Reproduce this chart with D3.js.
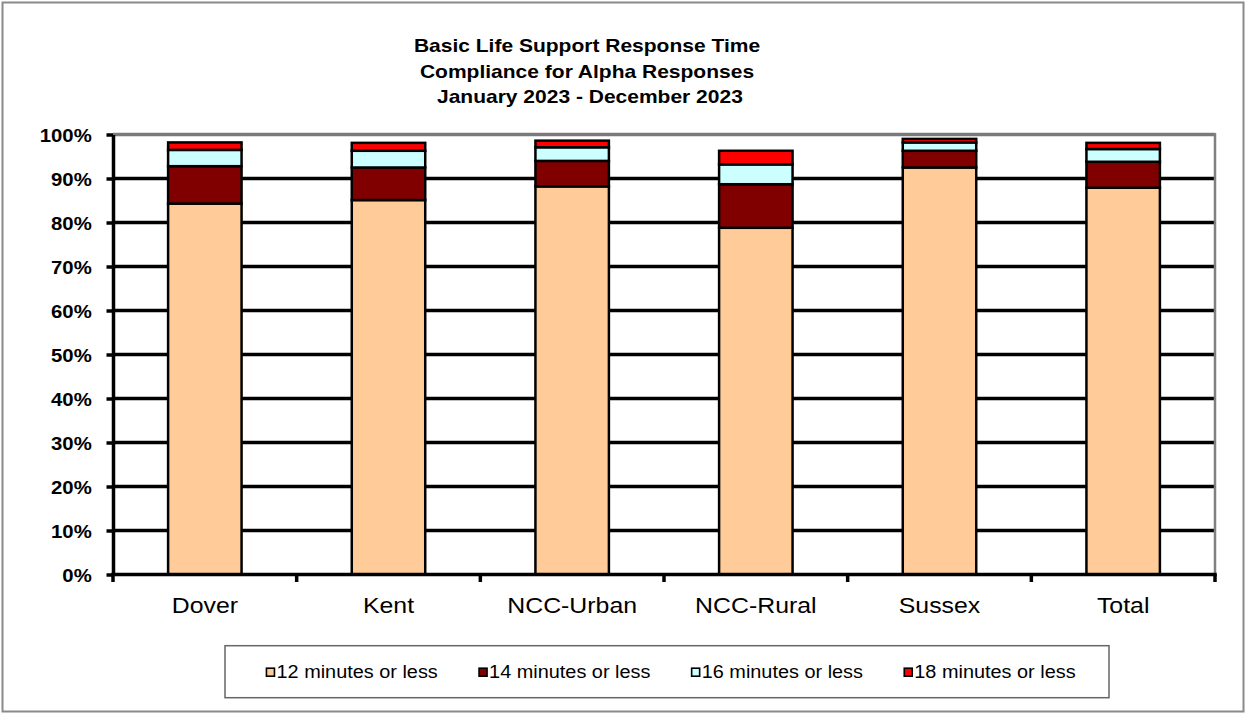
<!DOCTYPE html>
<html>
<head>
<meta charset="utf-8">
<script src="https://cdn.jsdelivr.net/npm/d3@7"></script>
<style>
  html, body { margin: 0; padding: 0; background: #fff; }
  svg { display: block; }
  text { font-family: "Liberation Sans", Arial, sans-serif; fill: #000; }
</style>
</head>
<body>
<svg id="chart" width="1246" height="713"></svg>
<script>
// ---- data ----
const categories = ["Dover", "Kent", "NCC-Urban", "NCC-Rural", "Sussex", "Total"];
const seriesNames = ["12 minutes or less", "14 minutes or less", "16 minutes or less", "18 minutes or less"];
const le12 = [84.3, 85.1, 88.2, 78.8, 92.5, 87.9];
const le14 = [8.5, 7.4, 5.8, 9.9, 3.8, 5.9];
const le16 = [3.7, 3.8, 3.1, 4.5, 1.9, 2.9];
const le18 = [1.7, 1.8, 1.5, 3.1, 0.8, 1.4];
const yTicks = [0, 0.1, 0.2, 0.3, 0.4, 0.5, 0.6, 0.7, 0.8, 0.9, 1.0];
const titleLines = ["Basic Life Support Response Time", "Compliance for Alpha Responses", " January 2023 - December 2023"];
const colors = ["#FFCC99", "#800000", "#CCFFFF", "#FF0000"];

(function () {
const SX = 1.13; // horizontal stretch of text as in reference

const svg = d3.select("#chart");
const W = 1246, H = 713;
const pLeft = 113, pRight = 1215, pTop = 134.5, pBottom = 574.5;

// outer border
svg.append("rect").attr("x", 2.5).attr("y", 2.5).attr("width", W - 5).attr("height", H - 4)
  .attr("fill", "#fff").attr("stroke", "#8a8a8a").attr("stroke-width", 2);

// title
const titleY = [51.7, 77.7, 103.3];
svg.append("g").selectAll("text").data(titleLines).join("text")
  .attr("transform", (d, i) => `translate(587,${titleY[i]}) scale(${SX},1)`)
  .attr("text-anchor", "middle")
  .attr("font-size", "18.6px").attr("font-weight", "bold")
  .attr("xml:space", "preserve")
  .text(d => d);

// scales
const x = d3.scaleBand().domain(categories).range([pLeft, pRight]).paddingInner(0.6).paddingOuter(0.3);
const y = d3.scaleLinear().domain([0, 1]).range([pBottom, pTop]);

// data table
const table = categories.map((c, i) => ({
  cat: c,
  s0: le12[i] / 100, s1: le14[i] / 100, s2: le16[i] / 100, s3: le18[i] / 100
}));
const stacked = d3.stack().keys(["s0", "s1", "s2", "s3"])(table);

// gridlines
svg.append("g").selectAll("line").data(yTicks.filter(t => t > 0))
  .join("line")
  .attr("x1", pLeft).attr("x2", pRight)
  .attr("y1", d => y(d)).attr("y2", d => y(d))
  .attr("stroke", d => d >= 1 ? "#7a7a7a" : "#000")
  .attr("stroke-width", 3.5);

// right plot border
svg.append("line").attr("x1", pRight).attr("x2", pRight).attr("y1", pTop - 1.5).attr("y2", pBottom)
  .attr("stroke", "#808080").attr("stroke-width", 2.5);

// bars
svg.append("g").selectAll("g").data(stacked).join("g")
  .attr("fill", (d, i) => colors[i])
  .selectAll("rect").data(d => d).join("rect")
  .attr("x", d => x(d.data.cat))
  .attr("width", x.bandwidth())
  .attr("y", d => y(d[1]))
  .attr("height", d => y(d[0]) - y(d[1]))
  .attr("stroke", "#000").attr("stroke-width", 2.5);

// y axis
const yAxis = svg.append("g").attr("transform", `translate(${pLeft},0)`)
  .call(d3.axisLeft(y).tickValues(yTicks).tickSize(6.5).tickSizeOuter(0).tickFormat(d3.format(".0%")));
yAxis.select(".domain").attr("stroke", "#000").attr("stroke-width", 3.5);
yAxis.selectAll(".tick line").attr("stroke", "#000").attr("stroke-width", 3.5);
yAxis.selectAll(".tick text")
  .attr("x", 0).attr("dy", "0.4em")
  .attr("transform", `translate(-21.3,0) scale(${SX},1)`)
  .attr("font-size", "18px").attr("font-weight", "bold")
  .attr("font-family", "'Liberation Sans', Arial, sans-serif").attr("fill", "#000");

// x axis (labels at band centres, ticks at band boundaries)
const xAxis = svg.append("g").attr("transform", `translate(0,${pBottom})`)
  .call(d3.axisBottom(x).tickSize(0).tickSizeOuter(0));
xAxis.select(".domain").remove();
xAxis.selectAll(".tick text")
  .attr("y", 0).attr("dy", 0)
  .attr("transform", `translate(0,${613.3 - pBottom}) scale(${SX},1)`)
  .attr("font-size", "22px")
  .attr("font-family", "'Liberation Sans', Arial, sans-serif").attr("fill", "#000");

const step = x.step();
const boundaries = categories.map(c => x(c) - step * x.paddingOuter()).concat([pRight]);
svg.append("line").attr("x1", pLeft - 1.75).attr("x2", pRight + 1.75).attr("y1", pBottom).attr("y2", pBottom)
  .attr("stroke", "#000").attr("stroke-width", 3.5);
svg.append("g").selectAll("line").data(boundaries).join("line")
  .attr("x1", d => d).attr("x2", d => d)
  .attr("y1", pBottom).attr("y2", pBottom + 7.5)
  .attr("stroke", "#000").attr("stroke-width", 3.5);

// legend
svg.append("rect").attr("x", 225).attr("y", 645.7).attr("width", 884).attr("height", 52)
  .attr("fill", "#fff").attr("stroke", "#666").attr("stroke-width", 1.5);
const legend = svg.append("g").selectAll("g").data(seriesNames).join("g")
  .attr("transform", (d, i) => `translate(${265.7 + i * 212.6},0)`);
legend.append("rect").attr("x", 0.75).attr("y", 668.2).attr("width", 8).attr("height", 8)
  .attr("fill", (d, i) => colors[i]).attr("stroke", "#000").attr("stroke-width", 1.6);
legend.append("text")
  .attr("transform", `translate(10.8,677.7) scale(${SX},1)`)
  .attr("font-size", "17.6px")
  .text(d => d);
})();
</script>
</body>
</html>
